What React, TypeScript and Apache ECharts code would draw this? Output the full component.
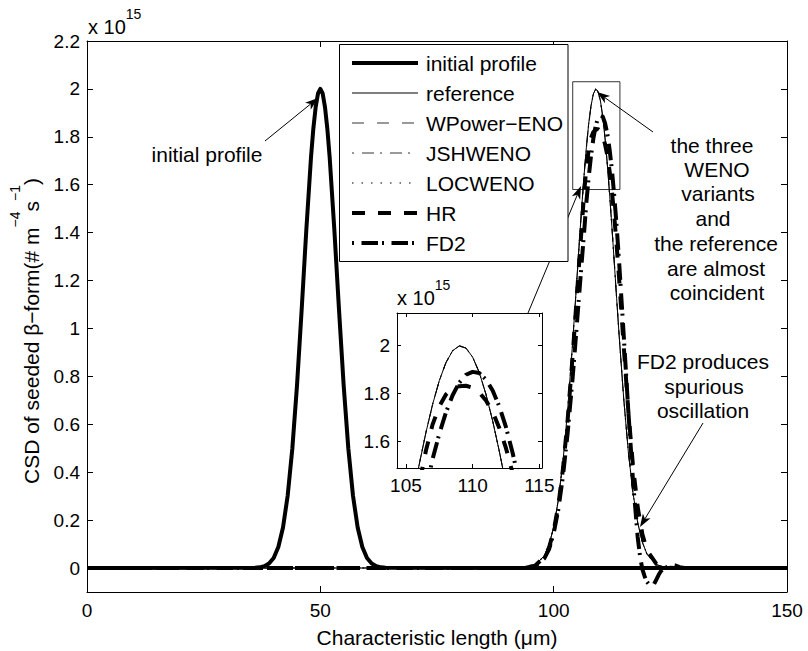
import React, { useEffect, useRef } from 'react';
import * as echarts from 'echarts';

// ---------- data (values in units of 1e15) ----------
const xTicks = [0, 50, 100, 150];
const yTicks = [0, 0.2, 0.4, 0.6, 0.8, 1, 1.2, 1.4, 1.6, 1.8, 2, 2.2];
const insetXTicks = [105, 110, 115];
const insetYTicks = [1.6, 1.8, 2];

const legendNames = ['initial profile', 'reference', 'WPower\u2212ENO', 'JSHWENO', 'LOCWENO', 'HR', 'FD2'];

const initX = [0, 36, 37, 38, 39, 40, 41, 42, 43, 44, 45, 46, 47, 48, 48.5, 49, 49.5, 50, 50.5, 51, 51.5, 52, 53, 54, 55, 56, 57, 58, 59, 60, 61, 62, 63, 64, 150];
const initY = [0, 0.001, 0.003, 0.008, 0.019, 0.042, 0.088, 0.169, 0.302, 0.499, 0.762, 1.079, 1.413, 1.714, 1.834, 1.924, 1.981, 2.0, 1.981, 1.924, 1.834, 1.714, 1.413, 1.079, 0.762, 0.499, 0.302, 0.169, 0.088, 0.042, 0.019, 0.008, 0.003, 0.001, 0];

const peakX = [0, 92, 94, 96, 98, 99, 100, 101, 102, 103, 104, 104.5, 105, 105.5, 106, 106.5, 107, 107.5, 108, 108.5, 109, 109.5, 110, 110.5, 111, 111.5, 112, 112.5, 113, 113.5, 114, 115, 116, 117, 118, 119, 120, 122, 124, 126, 150];
const refY = [0, 0.0003, 0.002, 0.012, 0.051, 0.096, 0.17, 0.284, 0.447, 0.661, 0.923, 1.066, 1.213, 1.36, 1.503, 1.636, 1.754, 1.853, 1.929, 1.979, 1.999, 1.99, 1.952, 1.887, 1.796, 1.685, 1.557, 1.418, 1.272, 1.124, 0.979, 0.71, 0.485, 0.313, 0.19, 0.108, 0.058, 0.014, 0.003, 0.0005, 0];
// the three WENO variants coincide with the reference at this scale
const wpowerY = refY;
const jshY = refY;
const locY = refY;
const hrY = [0, 0, 0.002, 0.01, 0.045, 0.085, 0.155, 0.262, 0.415, 0.62, 0.87, 1.005, 1.145, 1.285, 1.42, 1.56, 1.67, 1.745, 1.795, 1.82, 1.83, 1.832, 1.824, 1.803, 1.77, 1.722, 1.655, 1.57, 1.465, 1.345, 1.215, 0.93, 0.655, 0.425, 0.255, 0.142, 0.074, 0.017, 0.003, 0, 0];

const fd2X = [0, 92, 94, 96, 98, 99, 100, 101, 102, 103, 104, 104.5, 105, 105.5, 106, 106.5, 107, 107.5, 108, 108.5, 109, 109.5, 110, 110.5, 111, 111.5, 112, 112.5, 113, 113.5, 114, 115, 116, 117, 118, 118.5, 119, 119.5, 120, 120.5, 121, 121.5, 122, 122.5, 123, 124, 125, 125.5, 126, 127, 128, 150];
const fd2Y = [0, 0, 0.001, 0.008, 0.04, 0.078, 0.145, 0.245, 0.385, 0.565, 0.78, 0.9, 1.025, 1.15, 1.275, 1.395, 1.525, 1.63, 1.72, 1.792, 1.845, 1.878, 1.89, 1.885, 1.858, 1.812, 1.745, 1.658, 1.55, 1.425, 1.285, 0.975, 0.655, 0.365, 0.13, 0.05, -0.005, -0.035, -0.058, -0.07, -0.075, -0.068, -0.048, -0.028, -0.012, 0.002, 0.01, 0.013, 0.011, 0.004, 0, 0];

// zoom rectangle drawn in the main axes [x0, y0, x1, y1]
const zoomRect = [104.08, 2.03, 114.2, 1.58];

// ---------- styles ----------
const FONT = '"Liberation Sans", Arial, Helvetica, sans-serif';
const styles: Record<string, { width: number; type: any }> = {
  init: { width: 4, type: 'solid' },
  ref: { width: 1, type: 'solid' },
  wpower: { width: 0.8, type: [12, 13] },
  jsh: { width: 0.8, type: [2, 8, 12, 6] },
  loc: { width: 1.2, type: [1.5, 8] },
  hr: { width: 4, type: [13, 13] },
  fd2: { width: 4, type: [2, 7.5, 16.5, 4] },
};
const legendKeys = ['init', 'ref', 'wpower', 'jsh', 'loc', 'hr', 'fd2'];

const fmt = (v: number) => String(parseFloat(Number(v).toFixed(2)));
const zip = (xs: number[], ys: number[]) => xs.map((x, i) => [x, ys[i]]);

function lineSeries(name: string, xs: number[], ys: number[], key: string, inset: boolean, extra: any = {}) {
  const st = styles[key];
  return {
    type: 'line',
    name,
    xAxisIndex: inset ? 2 : 0,
    yAxisIndex: inset ? 2 : 0,
    data: zip(xs, ys),
    symbol: 'none',
    showSymbol: false,
    silent: true,
    clip: true,
    lineStyle: { color: '#000', width: st.width, type: st.type, cap: 'butt', join: 'round' },
    ...extra,
  };
}

function arrow(x1: number, y1: number, x2: number, y2: number) {
  const dx = x2 - x1, dy = y2 - y1;
  const len = Math.hypot(dx, dy);
  const ux = dx / len, uy = dy / len;
  const nx = -uy, ny = ux;
  const L = 13, W = 4.5, N = 3.5;
  return [
    { type: 'line', z: 60, silent: true, shape: { x1, y1, x2: x2 - ux * (L - N), y2: y2 - uy * (L - N) }, style: { stroke: '#000', lineWidth: 1 } },
    {
      type: 'polygon', z: 60, silent: true,
      shape: { points: [[x2, y2], [x2 - ux * L + nx * W, y2 - uy * L + ny * W], [x2 - ux * (L - N), y2 - uy * (L - N)], [x2 - ux * L - nx * W, y2 - uy * L - ny * W]] },
      style: { fill: '#000' },
    },
  ];
}

function txt(text: string, x: number, y: number, size = 21, align = 'center') {
  return { type: 'text', x, y, z: 60, silent: true, style: { text, fill: '#000', font: `${size}px ${FONT}`, align, verticalAlign: 'middle' } };
}

function sci(x: number, y: number) {
  return {
    type: 'text', x, y, z: 60, silent: true,
    style: {
      text: '{a|x 10}{b|15}', align: 'left', verticalAlign: 'middle',
      rich: {
        a: { fontSize: 20, fontFamily: FONT, fill: '#000', lineHeight: 40 },
        b: { fontSize: 14, fontFamily: FONT, fill: '#000', lineHeight: 14, verticalAlign: 'top' },
      },
    },
  };
}

export default function App() {
  const ref = useRef<HTMLDivElement>(null);
  useEffect(() => {
    if (!ref.current) return;
    const chart = echarts.init(ref.current, null, { renderer: 'svg' });

    const axBase = (extra: any) => ({
      type: 'value',
      splitLine: { show: false },
      axisLine: { show: true, onZero: false, lineStyle: { color: '#000', width: 1 } },
      ...extra,
    });
    const lbl = { color: '#000', fontSize: 19, fontFamily: FONT };

    const xAxis = [
      axBase({ gridIndex: 0, position: 'bottom', min: 0, max: 150, interval: 50,
        axisTick: { inside: true, length: 6, lineStyle: { color: '#000' }, customValues: xTicks },
        axisLabel: { ...lbl, margin: 9, customValues: xTicks, formatter: fmt } }),
      axBase({ gridIndex: 0, position: 'top', min: 0, max: 150, interval: 50,
        axisTick: { inside: true, length: 6, lineStyle: { color: '#000' }, customValues: xTicks },
        axisLabel: { show: false } }),
      axBase({ gridIndex: 1, position: 'bottom', min: 104.33, max: 115.2,
        axisTick: { inside: true, length: 4, lineStyle: { color: '#000' }, customValues: insetXTicks },
        axisLabel: { ...lbl, margin: 8, customValues: insetXTicks, formatter: fmt } }),
      axBase({ gridIndex: 1, position: 'top', min: 104.33, max: 115.2,
        axisTick: { inside: true, length: 4, lineStyle: { color: '#000' }, customValues: insetXTicks },
        axisLabel: { show: false } }),
    ];
    const yAxis = [
      axBase({ gridIndex: 0, position: 'left', min: -0.1, max: 2.2,
        axisTick: { inside: true, length: 6, lineStyle: { color: '#000' }, customValues: yTicks },
        axisLabel: { ...lbl, margin: 7, customValues: yTicks, formatter: fmt } }),
      axBase({ gridIndex: 0, position: 'right', min: -0.1, max: 2.2,
        axisTick: { inside: true, length: 6, lineStyle: { color: '#000' }, customValues: yTicks },
        axisLabel: { show: false } }),
      axBase({ gridIndex: 1, position: 'left', min: 1.487, max: 2.137,
        axisTick: { inside: true, length: 4, lineStyle: { color: '#000' }, customValues: insetYTicks },
        axisLabel: { ...lbl, margin: 7, customValues: insetYTicks, formatter: fmt } }),
      axBase({ gridIndex: 1, position: 'right', min: 1.487, max: 2.137,
        axisTick: { inside: true, length: 4, lineStyle: { color: '#000' }, customValues: insetYTicks },
        axisLabel: { show: false } }),
    ];

    const series: any[] = [
      lineSeries(legendNames[0], initX, initY, 'init', false),
      lineSeries(legendNames[1], peakX, refY, 'ref', false, {
        markArea: {
          silent: true,
          itemStyle: { color: 'rgba(0,0,0,0)', borderColor: '#000', borderWidth: 0.8 },
          data: [[{ coord: [zoomRect[0], zoomRect[1]] }, { coord: [zoomRect[2], zoomRect[3]] }]],
        },
      }),
      lineSeries(legendNames[2], peakX, wpowerY, 'wpower', false),
      lineSeries(legendNames[3], peakX, jshY, 'jsh', false),
      lineSeries(legendNames[4], peakX, locY, 'loc', false),
      lineSeries(legendNames[5], peakX, hrY, 'hr', false),
      lineSeries(legendNames[6], fd2X, fd2Y, 'fd2', false),
      lineSeries(legendNames[1] + ' (inset)', peakX, refY, 'ref', true),
      lineSeries(legendNames[2] + ' (inset)', peakX, wpowerY, 'wpower', true),
      lineSeries(legendNames[3] + ' (inset)', peakX, jshY, 'jsh', true),
      lineSeries(legendNames[4] + ' (inset)', peakX, locY, 'loc', true),
      lineSeries(legendNames[5] + ' (inset)', peakX, hrY, 'hr', true),
      lineSeries(legendNames[6] + ' (inset)', fd2X, fd2Y, 'fd2', true),
    ];

    // legend box (manual, MATLAB style)
    const legendEls: any[] = [
      { type: 'rect', z: 100, silent: true, shape: { x: 339.5, y: 44.5, width: 228.5, height: 217 }, style: { fill: '#fff', stroke: '#000', lineWidth: 1 } },
    ];
    legendNames.forEach((name, i) => {
      const y = 63 + i * 30;
      const st = styles[legendKeys[i]];
      legendEls.push({
        type: 'line', z: 101, silent: true,
        shape: { x1: 352, y1: y, x2: 418, y2: y },
        style: { stroke: '#000', lineWidth: st.width, lineDash: Array.isArray(st.type) ? st.type : null, lineCap: 'butt' },
      });
      legendEls.push({ type: 'text', z: 101, silent: true, x: 426, y, style: { text: name, fill: '#000', font: `21px ${FONT}`, align: 'left', verticalAlign: 'middle' } });
    });

    const graphic: any[] = [
      ...legendEls,
      sci(88, 27),
      sci(397, 298),
      // axis titles
      txt('Characteristic length (\u03bcm)', 437, 637, 21),
      {
        type: 'text', x: 31, y: 331, rotation: Math.PI / 2, z: 60, silent: true,
        style: {
          text: '{a|CSD of seeded \u03b2\u2212form(# m}{b|\u22124}{a|s}{b|\u22121}{a|)}',
          align: 'center', verticalAlign: 'middle',
          rich: {
            a: { fontSize: 21, fontFamily: FONT, fill: '#000', lineHeight: 46 },
            b: { fontSize: 14, fontFamily: FONT, fill: '#000', lineHeight: 14, verticalAlign: 'top' },
          },
        },
      },
      // annotations
      txt('initial profile', 207, 154),
      ...arrow(265, 141, 318, 98),
      txt('the three', 712, 145),
      txt('WENO', 717, 169),
      txt('variants', 718, 193),
      txt('and', 713, 218),
      txt('the reference', 716, 243),
      txt('are almost', 716, 268),
      txt('coincident', 717, 292),
      ...arrow(653, 132, 597, 92),
      ...arrow(528, 313, 581, 186),
      txt('FD2 produces', 703, 361),
      txt('spurious', 704, 386),
      txt('oscillation', 703, 410),
      ...arrow(703, 423, 640, 527),
    ];

    chart.setOption({
      animation: false,
      backgroundColor: '#fff',
      grid: [
        { left: 87, top: 41, width: 700, height: 551, show: false },
        { left: 397, top: 313, width: 145, height: 155, show: false },
      ],
      xAxis,
      yAxis,
      series,
      graphic,
    });
    return () => chart.dispose();
  }, []);

  return <div ref={ref} style={{ position: 'absolute', left: 0, top: 0, width: 808, height: 651, background: '#fff' }} />;
}
